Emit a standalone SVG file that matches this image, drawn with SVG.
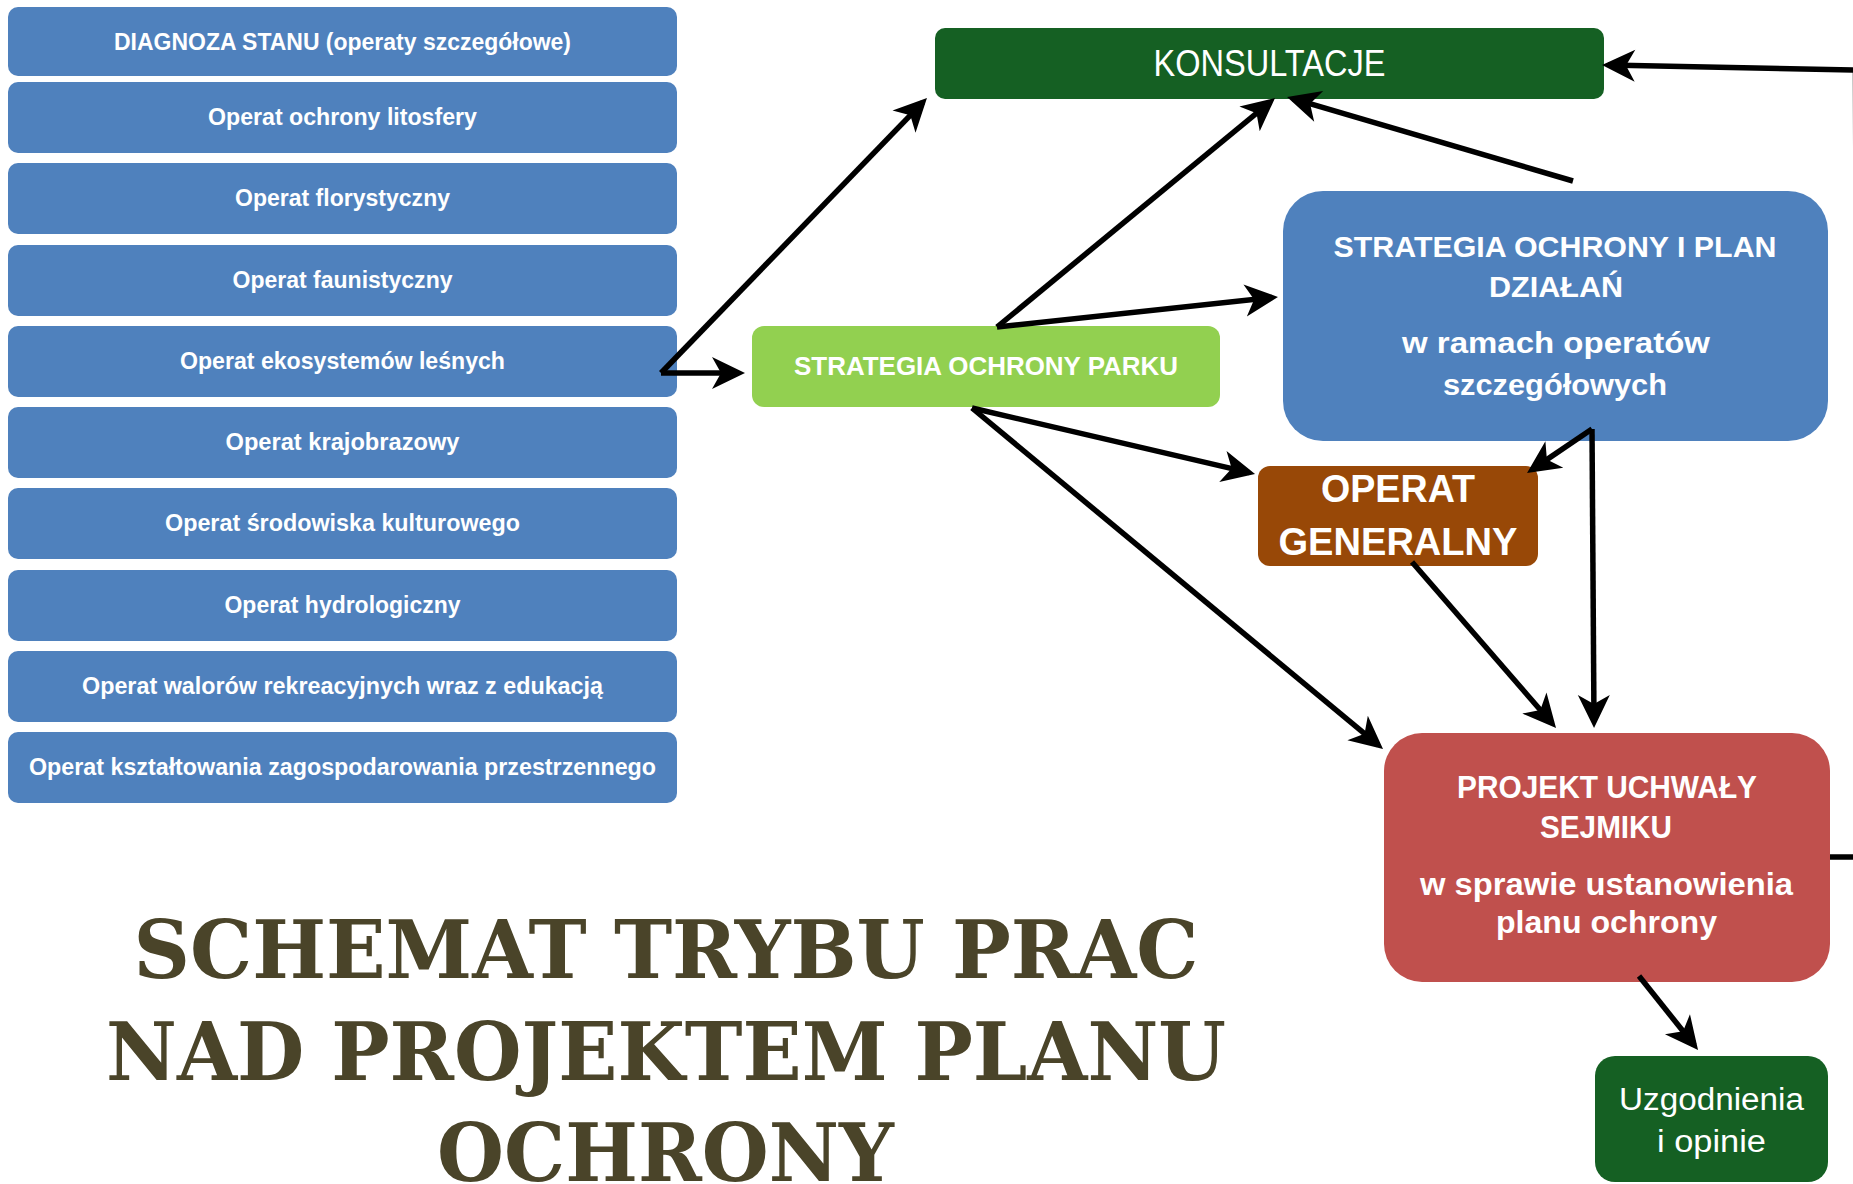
<svg xmlns="http://www.w3.org/2000/svg" width="1853" height="1184" viewBox="0 0 1853 1184">
<style>
.op{fill:#4F81BD;}
.t{font-family:"Liberation Sans",Arial,sans-serif;fill:#fff;text-anchor:middle;}
.b{font-weight:bold;}
.lt{font-size:23.5px;font-weight:bold;}
.title{font-family:"DejaVu Serif","Liberation Serif",serif;font-weight:bold;font-size:80px;fill:#4A4429;text-anchor:middle;}
.c{fill:none;stroke:#000;stroke-width:5.5;marker-end:url(#ah);}
</style>
<defs>
<marker id="ah" markerUnits="userSpaceOnUse" markerWidth="34" markerHeight="34" viewBox="0 0 34 34" refX="27" refY="17" orient="auto" overflow="visible">
<path d="M33,17 L0,1 L9,17 L0,33 Z" fill="#000"/>
</marker>
</defs>
<rect width="1853" height="1184" fill="#fff"/>

<g id="op1"><rect class="op" x="8" y="7" width="669" height="69" rx="10"/><text class="t lt" x="342.5" y="50" textLength="457" lengthAdjust="spacingAndGlyphs">DIAGNOZA STANU (operaty szczegółowe)</text></g>
<g id="op2"><rect class="op" x="8" y="82" width="669" height="71" rx="10"/><text class="t lt" x="342.5" y="125" textLength="269" lengthAdjust="spacingAndGlyphs">Operat ochrony litosfery</text></g>
<g id="op3"><rect class="op" x="8" y="163" width="669" height="71" rx="10"/><text class="t lt" x="342.5" y="206" textLength="215" lengthAdjust="spacingAndGlyphs">Operat florystyczny</text></g>
<g id="op4"><rect class="op" x="8" y="245" width="669" height="71" rx="10"/><text class="t lt" x="342.5" y="288" textLength="220" lengthAdjust="spacingAndGlyphs">Operat faunistyczny</text></g>
<g id="op5"><rect class="op" x="8" y="326" width="669" height="71" rx="10"/><text class="t lt" x="342.5" y="369" textLength="325" lengthAdjust="spacingAndGlyphs">Operat ekosystemów leśnych</text></g>
<g id="op6"><rect class="op" x="8" y="407" width="669" height="71" rx="10"/><text class="t lt" x="342.5" y="450" textLength="234" lengthAdjust="spacingAndGlyphs">Operat krajobrazowy</text></g>
<g id="op7"><rect class="op" x="8" y="488" width="669" height="71" rx="10"/><text class="t lt" x="342.5" y="531" textLength="355" lengthAdjust="spacingAndGlyphs">Operat środowiska kulturowego</text></g>
<g id="op8"><rect class="op" x="8" y="570" width="669" height="71" rx="10"/><text class="t lt" x="342.5" y="613" textLength="236" lengthAdjust="spacingAndGlyphs">Operat hydrologiczny</text></g>
<g id="op9"><rect class="op" x="8" y="651" width="669" height="71" rx="10"/><text class="t lt" x="342.5" y="694" textLength="521" lengthAdjust="spacingAndGlyphs">Operat walorów rekreacyjnych wraz z edukacją</text></g>
<g id="op10"><rect class="op" x="8" y="732" width="669" height="71" rx="10"/><text class="t lt" x="342.5" y="775" textLength="627" lengthAdjust="spacingAndGlyphs">Operat kształtowania zagospodarowania przestrzennego</text></g>

<g id="konsultacje"><rect x="935" y="28" width="669" height="71" rx="10" fill="#156023"/><text class="t" x="1269.5" y="76" font-size="37.5" textLength="232" lengthAdjust="spacingAndGlyphs">KONSULTACJE</text></g>

<g id="strategia-parku"><rect x="752" y="326" width="468" height="81" rx="12" fill="#92D050"/><text class="t b" x="986" y="375" font-size="26.5" textLength="384" lengthAdjust="spacingAndGlyphs">STRATEGIA OCHRONY PARKU</text></g>

<g id="strategia-plan"><rect x="1283" y="191" width="545" height="250" rx="40" fill="#4F81BD"/>
<text class="t b" x="1555" y="257" font-size="30" textLength="443" lengthAdjust="spacingAndGlyphs">STRATEGIA OCHRONY I PLAN</text>
<text class="t b" x="1556" y="297" font-size="30" textLength="134" lengthAdjust="spacingAndGlyphs">DZIAŁAŃ</text>
<text class="t b" x="1556" y="353" font-size="30" textLength="308" lengthAdjust="spacingAndGlyphs">w ramach operatów</text>
<text class="t b" x="1555" y="395" font-size="30" textLength="224" lengthAdjust="spacingAndGlyphs">szczegółowych</text></g>

<g id="operat-generalny"><rect x="1258" y="466" width="280" height="100" rx="12" fill="#984807"/>
<text class="t b" x="1398" y="502" font-size="39" textLength="154" lengthAdjust="spacingAndGlyphs">OPERAT</text>
<text class="t b" x="1398" y="555" font-size="39" textLength="239" lengthAdjust="spacingAndGlyphs">GENERALNY</text></g>

<g id="projekt-uchwaly"><rect x="1384" y="733" width="446" height="249" rx="38" fill="#C0504D"/>
<text class="t b" x="1607" y="798" font-size="32" textLength="300" lengthAdjust="spacingAndGlyphs">PROJEKT UCHWAŁY</text>
<text class="t b" x="1606" y="838" font-size="32" textLength="132" lengthAdjust="spacingAndGlyphs">SEJMIKU</text>
<text class="t b" x="1606.5" y="895" font-size="32" textLength="373" lengthAdjust="spacingAndGlyphs">w sprawie ustanowienia</text>
<text class="t b" x="1606.5" y="933" font-size="32" textLength="221" lengthAdjust="spacingAndGlyphs">planu ochrony</text></g>

<g id="uzgodnienia"><rect x="1595" y="1056" width="233" height="126" rx="20" fill="#156023"/>
<text class="t" x="1711.5" y="1110" font-size="31" textLength="185" lengthAdjust="spacingAndGlyphs">Uzgodnienia</text>
<text class="t" x="1711.5" y="1152" font-size="31" textLength="109" lengthAdjust="spacingAndGlyphs">i opinie</text></g>

<g id="title">
<text class="title" x="666" y="978" textLength="1065" lengthAdjust="spacingAndGlyphs">SCHEMAT TRYBU PRAC</text>
<text class="title" x="666" y="1080" textLength="1120" lengthAdjust="spacingAndGlyphs">NAD PROJEKTEM PLANU</text>
<text class="title" x="665.5" y="1181" textLength="457" lengthAdjust="spacingAndGlyphs">OCHRONY</text>
</g>

<g id="connectors">
<path class="c" d="M661,373 L922.8,102.3"/>
<path class="c" d="M661,373 L739,373"/>
<path class="c" d="M997,327 L1270.4,101.8"/>
<path class="c" d="M997,327 L1272,297.6"/>
<path class="c" d="M1573,181 L1292.8,98.7"/>
<path class="c" d="M1830,857 L1858,857 L1855.5,70 L1608,65.1" stroke-linejoin="miter"/>
<path class="c" d="M972,408 L1249.2,472.6" stroke-width="6.5"/>
<path class="c" d="M972,408 L1378.4,745.2"/>
<path class="c" d="M1592,429 L1532,469.6"/>
<path class="c" d="M1592,429 L1594,722"/>
<path class="c" d="M1412,562 L1552.1,723.5"/>
<path class="c" d="M1639,976 L1694.3,1045.3"/>
</g>
</svg>
